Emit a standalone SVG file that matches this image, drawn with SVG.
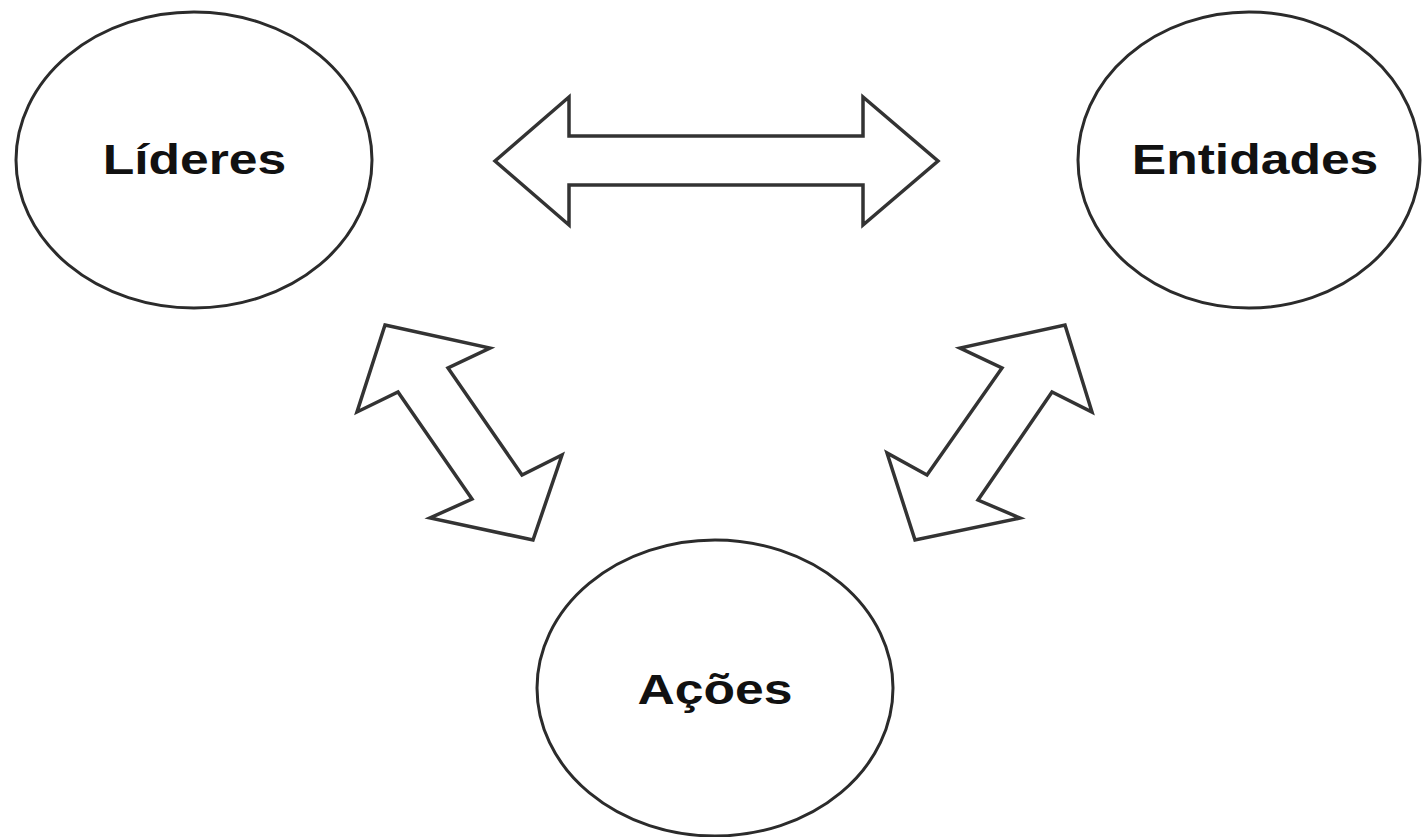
<svg xmlns="http://www.w3.org/2000/svg" width="1423" height="837" viewBox="0 0 1423 837">
<style>
.node{fill:#fff;stroke:#2b2b2b;stroke-width:3}
.arrow{fill:#fff;stroke:#333;stroke-width:3.5;stroke-linejoin:miter}
.label{font-family:"Liberation Sans",Arial,sans-serif;font-weight:bold;font-size:43px;fill:#111;text-anchor:middle}
</style>
<rect width="1423" height="837" fill="#fff"/>
<g id="connectors">
<polygon id="arrow-top" class="arrow" points="495,161 569,97 569,136 863,136 863,97 938,161 863,225 863,185 569,185 569,225"/>
<polygon id="arrow-left" class="arrow" points="385,325 490,348 448,368 522,475 562,455 533,540 430,518 472,499 398,392 357,412"/>
<polygon id="arrow-right" class="arrow" points="1065,325 1092,412 1052,392 978,500 1020,518 915,540 887,453 927,475 1002,368 960,348"/>
</g>
<g id="node-lideres">
<ellipse class="node" cx="194" cy="160" rx="178" ry="148"/>
<text class="label" transform="translate(194.5,174) scale(1.2,1)">Líderes</text>
</g>
<g id="node-entidades">
<ellipse class="node" cx="1249" cy="160" rx="171" ry="148"/>
<text class="label" transform="translate(1255,174) scale(1.2,1)">Entidades</text>
</g>
<g id="node-acoes">
<ellipse class="node" cx="715" cy="688" rx="178" ry="148"/>
<text class="label" transform="translate(715,704) scale(1.2,1)">Ações</text>
</g>
</svg>
